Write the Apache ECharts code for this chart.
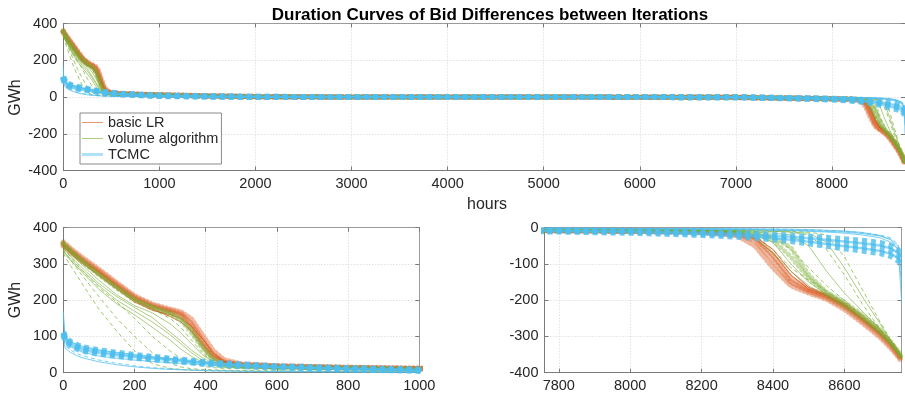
<!DOCTYPE html>
<html><head><meta charset="utf-8">
<script src="https://cdn.jsdelivr.net/npm/echarts@6/dist/echarts.min.js"></script>
<style>html,body{margin:0;padding:0;background:#fff}#c{width:905px;height:403px}</style>
</head><body><div id="c"></div>
<script>
// ---- data ----
const hours = [0,5,20,50,100,150,200,250,300,330,360,390,420,450,500,600,800,1000,1500,2000,3000,5000,7000,7760,8000,8200,8300,8350,8400,8450,8500,8550,8600,8650,8700,8730,8750,8760];

// basic LR
const lrThick1 = [355,350,338,315,280,243,208,185,172,163,135,90,50,30,22,18,14,12,6,2,0,0,-2,-8,-10,-12,-18,-35,-90,-150,-175,-192,-218,-255,-295,-325,-350,-365];
const lrThick2 = [360,355,343,320,285,248,212,189,175,168,148,105,62,36,24,19,15,12,6,2,0,0,-2,-8,-10,-13,-22,-50,-110,-160,-180,-197,-225,-262,-302,-332,-355,-368];
const lrThick3 = [350,346,333,310,275,238,204,181,168,158,125,78,42,27,21,17,13,11,5,2,0,0,-2,-7,-9,-11,-15,-28,-75,-140,-170,-187,-212,-248,-288,-318,-345,-362];
const lrThin1  = [352,347,335,312,277,240,200,175,155,140,115,80,48,30,22,18,14,12,6,2,0,0,-2,-7,-9,-11,-15,-30,-70,-130,-170,-188,-215,-252,-292,-322,-348,-363];
const lrThin2  = [348,343,330,305,268,232,195,172,160,150,128,95,55,32,22,18,14,11,5,2,0,0,-2,-7,-9,-11,-14,-25,-60,-120,-165,-185,-212,-250,-290,-320,-346,-362];

// volume algorithm
const vaDot1  = [355,350,336,310,270,233,200,180,162,145,110,68,36,23,19,16,13,11,5,2,0,0,-2,-7,-9,-10,-12,-15,-25,-55,-130,-178,-205,-240,-280,-315,-340,-355];
const vaDot2  = [358,352,338,312,272,236,203,182,165,150,118,75,40,25,19,16,13,11,5,2,0,0,-2,-7,-9,-10,-12,-18,-35,-80,-140,-180,-210,-245,-285,-318,-343,-358];
const vaSol1  = [345,338,322,292,246,210,180,152,112,88,62,42,26,19,16,14,12,10,5,2,0,0,-2,-6,-8,-9,-12,-30,-70,-120,-160,-190,-220,-255,-295,-320,-345,-360];
const vaSol2  = [350,344,328,300,255,215,185,165,135,110,80,50,30,20,17,15,13,11,5,2,0,0,-2,-7,-9,-10,-13,-20,-40,-100,-150,-185,-215,-250,-290,-320,-345,-360];
const vaSol3  = [335,327,310,280,230,190,160,125,90,65,45,30,20,15,13,11,9,8,4,1,0,0,-1,-6,-7,-8,-10,-12,-15,-20,-50,-120,-180,-230,-280,-315,-340,-352];
const vaSol4  = [338,330,314,285,240,200,170,140,105,80,55,35,22,16,14,12,10,9,4,1,0,0,-1,-5,-6,-7,-8,-9,-10,-12,-15,-40,-110,-190,-265,-312,-340,-350];
const vaDash1 = [340,332,312,272,210,150,100,55,25,16,11,9,8,7,6,5,4,3,1,0,0,0,-1,-5,-6,-7,-8,-9,-10,-12,-20,-60,-130,-210,-280,-320,-345,-355];
const vaDash2 = [330,320,296,250,175,115,60,25,12,9,7,6,5,5,4,4,3,3,1,0,0,0,-1,-4,-5,-6,-6,-7,-8,-10,-12,-20,-80,-170,-260,-310,-340,-350];
const vaDash3 = [360,354,340,310,270,235,200,175,150,125,90,55,30,20,17,15,13,12,5,2,0,0,-2,-7,-9,-10,-12,-15,-25,-60,-110,-160,-200,-245,-285,-318,-342,-358];
const vaDash4 = [345,338,320,285,235,195,150,100,60,40,25,18,14,12,11,10,9,8,4,1,0,0,-1,-6,-8,-9,-11,-20,-60,-110,-145,-175,-210,-245,-290,-322,-348,-365];

// TCMC
const tcSq1   = [112,100,85,71,62,55,49,44,39,36,33,30,28,26,23,18,13,9,4,1,0,0,-1,-10,-14,-20,-25,-28,-32,-37,-43,-50,-57,-63,-70,-78,-90,-100];
const tcSq2   = [104,90,75,61,52,46,41,37,33,30,28,25,23,21,18,14,9,5,2,0,0,0,-1,-7,-9,-12,-15,-17,-19,-22,-25,-28,-32,-36,-42,-50,-62,-75];
const tcSq3   = [108,95,80,66,57,50,45,40,36,33,30,28,25,23,20,16,11,7,3,1,0,0,-1,-8,-11,-16,-20,-22,-25,-29,-34,-39,-44,-50,-56,-64,-76,-88];
const tcBand1 = [110,98,83,69,60,53,47,42,38,35,32,29,27,25,22,17,12,8,4,1,0,0,-1,-9,-12,-18,-22,-25,-29,-33,-39,-45,-51,-57,-64,-72,-84,-95];
const tcBand2 = [106,92,77,63,54,48,43,39,35,32,29,27,24,22,19,15,10,6,3,1,0,0,-1,-8,-10,-14,-17,-20,-22,-25,-29,-33,-38,-43,-49,-57,-69,-82];
const tcThin1 = [170,96,86,74,63,56,50,44,39,35,32,29,27,25,22,17,11,7,3,1,0,0,0,-2,-3,-4,-4,-5,-6,-7,-8,-10,-12,-16,-23,-33,-50,-200];
const tcThin2 = [150,85,72,58,46,40,35,31,28,26,24,22,20,19,17,14,10,6,3,1,0,0,0,-2,-3,-4,-5,-6,-7,-8,-10,-12,-15,-20,-28,-40,-60,-120];
const tcThin3 = [100,68,56,42,30,22,16,12,9,8,7,6,5,5,4,3,2,1,0,0,0,0,0,-1,-2,-2,-3,-3,-4,-4,-5,-7,-9,-13,-22,-32,-60,-150];
const tcDash1 = [110,75,62,48,35,26,19,14,11,9,8,7,6,5,4,3,2,1,0,0,0,0,0,-1,-2,-3,-3,-4,-4,-5,-6,-8,-10,-14,-20,-28,-45,-80];

const legendNames = ['basic LR','volume algorithm','TCMC'];
const xTicksRight = [7800,8000,8200,8400,8600];

// ---- styles ----
const RED='rgba(217,83,25,', GRN='rgba(119,172,48,', BLU='rgba(77,190,238,';
const st = {
  redThick: {color:RED+'0.42)', width:5.5, type:[0.1,4], cap:'round'},
  redThin:  {color:RED+'0.8)', width:1, type:'solid'},
  grnDot:   {color:GRN+'0.4)', width:5, type:[0.1,5], cap:'round'},
  grnSol:   {color:GRN+'0.6)', width:1, type:'solid'},
  grnDash:  {color:GRN+'0.7)', width:1, type:[4,3]},
  bluSq:    {color:BLU+'0.8)', width:6, type:[5,4], cap:'butt'},
  bluBand:  {color:BLU+'0.6)', width:2.5, type:'solid'},
  bluThin:  {color:BLU+'0.75)', width:1, type:'solid'},
  bluDash:  {color:BLU+'0.75)', width:1, type:[4,3]},
  legRed:   {color:RED+'0.6)', width:1, type:'solid'},
  legGrn:   {color:GRN+'0.6)', width:1, type:'solid'},
  legBlu:   {color:BLU+'0.45)', width:3, type:'solid'}
};
const curves = [
  ['basic LR', lrThick1, 'redThick'], ['basic LR', lrThick2, 'redThick'], ['basic LR', lrThick3, 'redThick'],
  ['basic LR', lrThin1, 'redThin'], ['basic LR', lrThin2, 'redThin'],
  ['volume algorithm', vaSol1, 'grnSol'], ['volume algorithm', vaSol2, 'grnSol'], ['volume algorithm', vaSol3, 'grnSol'], ['volume algorithm', vaSol4, 'grnSol'],
  ['volume algorithm', vaDash1, 'grnDash'], ['volume algorithm', vaDash2, 'grnDash'], ['volume algorithm', vaDash3, 'grnDash'], ['volume algorithm', vaDash4, 'grnDash'],
  ['volume algorithm', vaDot1, 'grnDot'], ['volume algorithm', vaDot2, 'grnDot'],
  ['TCMC', tcThin1, 'bluThin'], ['TCMC', tcThin2, 'bluThin'], ['TCMC', tcThin3, 'bluThin'], ['TCMC', tcDash1, 'bluDash'],
  ['TCMC', tcBand1, 'bluBand'], ['TCMC', tcBand2, 'bluBand'],
  ['TCMC', tcSq1, 'bluSq'], ['TCMC', tcSq3, 'bluSq'], ['TCMC', tcSq2, 'bluSq']
];

const FONT = '"Liberation Sans", Arial, sans-serif';
const TXT = '#262626', AX = '#7a7a7a';
const grids = [
  {left:63.3, top:23.5, width:847, height:147},
  {left:63.3, top:227.7, width:356, height:145},
  {left:544.5, top:227.7, width:357, height:145}
];
const xRanges = [[0,8760,1000],[0,1000,200],[7760,8760,null]];
const yRanges = [[-400,400,200],[0,400,100],[-400,0,100]];
const fmt = v => String(Math.round(v));

const xAxis = [], yAxis = [];
grids.forEach((g,i)=>{
  const [xmin,xmax,xint] = xRanges[i];
  const xa = {type:'value', gridIndex:i, min:xmin, max:xmax,
    axisLine:{show:true, onZero:false, lineStyle:{color:AX, width:1}},
    axisTick:{show:true, inside:true, length:4, lineStyle:{color:AX}},
    axisLabel:{color:TXT, fontSize:14.5, fontFamily:FONT, margin:6, formatter:fmt, showMaxLabel: i!==0, showMinLabel:true},
    splitLine:{show:true, lineStyle:{color:'#d4d4d4', type:[1,2], width:1}}};
  if (xint) xa.interval = xint;
  else {
    xa.axisTick.customValues = xTicksRight;
    xa.axisLabel.customValues = xTicksRight;
  }
  xAxis.push(xa);
  const [ymin,ymax,yint] = yRanges[i];
  yAxis.push({type:'value', gridIndex:i, min:ymin, max:ymax, interval:yint,
    axisLine:{show:true, onZero:false, lineStyle:{color:AX, width:1}},
    axisTick:{show:true, inside:true, length:4, lineStyle:{color:AX}},
    axisLabel:{color:TXT, fontSize:14.5, fontFamily:FONT, margin:6, formatter:fmt},
    splitLine:{show:true, lineStyle:{color:'#d4d4d4', type:[1,2], width:1}}});
});
// mirrored box axes (top / right)
grids.forEach((g,i)=>{
  const [xmin,xmax,xint] = xRanges[i];
  const xa = {type:'value', gridIndex:i, min:xmin, max:xmax, position:'top',
    axisLine:{show:true, onZero:false, lineStyle:{color:'#9a9a9a', width:1}},
    axisTick:{show:true, inside:true, length:4, lineStyle:{color:AX}},
    axisLabel:{show:false}, splitLine:{show:false}};
  if (xint) xa.interval = xint; else xa.axisTick.customValues = xTicksRight;
  xAxis.push(xa);
  const [ymin,ymax,yint] = yRanges[i];
  yAxis.push({type:'value', gridIndex:i, min:ymin, max:ymax, interval:yint, position:'right',
    axisLine:{show:true, onZero:false, lineStyle:{color:'#9a9a9a', width:1}},
    axisTick:{show:true, inside:true, length:4, lineStyle:{color:AX}},
    axisLabel:{show:false}, splitLine:{show:false}});
});

const series = [];
// legend-style carriers (empty) first so the legend icons take their style
[['basic LR','legRed'],['volume algorithm','legGrn'],['TCMC','legBlu']].forEach(([name,sk])=>{
  series.push({type:'line', name, xAxisIndex:0, yAxisIndex:0, symbol:'none', silent:true, data:[],
    color: st[sk].color, lineStyle:Object.assign({}, st[sk])});
});
grids.forEach((g,i)=>{
  curves.forEach(([name, vals, sk])=>{
    series.push({type:'line', name, xAxisIndex:i, yAxisIndex:i, symbol:'none', silent:true,
      animation:false, clip:true, color: st[sk].color, lineStyle:Object.assign({}, st[sk]),
      data: hours.map((h,k)=>[h, vals[k]])});
  });
});

const chart = echarts.init(document.getElementById('c'), null, {renderer:'canvas'});
chart.setOption({
  animation:false,
  backgroundColor:'#fff',
  title:{text:'Duration Curves of Bid Differences between Iterations', left:485, top:2, textAlign:'center',
    textStyle:{fontSize:17, fontWeight:'bold', color:'#000', fontFamily:FONT}},
  grid: grids.map(g=>Object.assign({containLabel:false}, g)),
  xAxis, yAxis,
  legend:{left:80, top:113, orient:'vertical', itemWidth:21, itemHeight:14, itemGap:1, symbolKeepAspect:true,
    padding:[2,3,2,2], borderColor:'#8a8a8a', borderWidth:1, backgroundColor:'#fff',
    textStyle:{fontSize:14.5, color:TXT, fontFamily:FONT},
    data:[
      {name:legendNames[0], icon:'path://M0,0H21V1H0Z'},
      {name:legendNames[1], icon:'path://M0,0H21V1H0Z'},
      {name:legendNames[2], icon:'path://M0,0H21V3H0Z'}
    ]},
  graphic:[
    {type:'text', x:16, y:97.5, rotation:Math.PI/2, style:{text:'GWh', font:'16px '+FONT, fill:TXT, textAlign:'center', textVerticalAlign:'middle'}},
    {type:'text', x:16, y:300, rotation:Math.PI/2, style:{text:'GWh', font:'16px '+FONT, fill:TXT, textAlign:'center', textVerticalAlign:'middle'}},
    {type:'text', x:487, y:205, style:{text:'hours', font:'16px '+FONT, fill:TXT, textAlign:'center', textVerticalAlign:'middle'}}
  ],
  series
});
</script></body></html>
